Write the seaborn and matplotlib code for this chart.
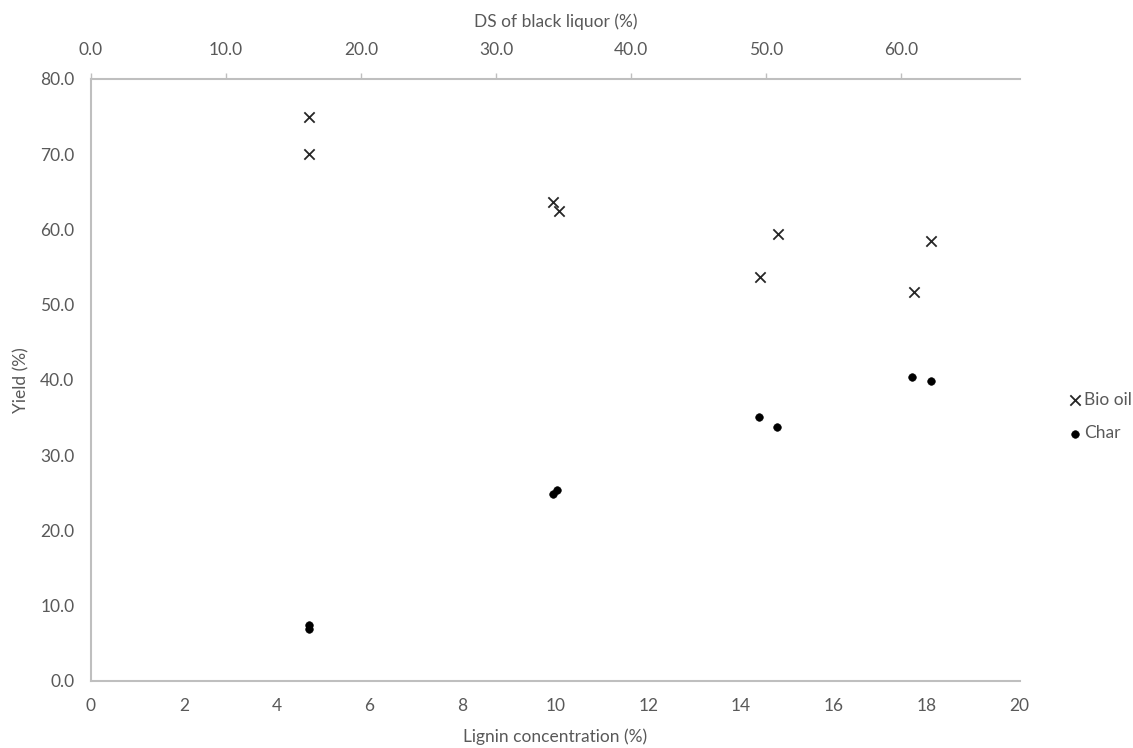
import matplotlib
matplotlib.use("Agg")
import matplotlib.pyplot as plt
import numpy as np
import pandas as pd
import seaborn as sns
from matplotlib.ticker import FormatStrFormatter

# valores
lignin_bio = [4.70, 4.70, 9.96, 10.08, 14.41, 14.80, 17.72, 18.09]
yield_bio = [75.0, 70.0, 63.6, 62.4, 53.7, 59.4, 51.7, 58.5]
lignin_char = [4.70, 4.70, 9.95, 10.04, 14.39, 14.78, 17.69, 18.08]
yield_char = [7.45, 6.9, 24.8, 25.4, 35.1, 33.8, 40.4, 39.9]
series_names = ["Bio oil", "Char"]
ds_ticks = [0, 10, 20, 30, 40, 50, 60]
lignin_ticks = [0, 2, 4, 6, 8, 10, 12, 14, 16, 18, 20]
yield_ticks = [0, 10, 20, 30, 40, 50, 60, 70, 80]

bio = pd.DataFrame({"lignin": lignin_bio, "yield": yield_bio})
char = pd.DataFrame({"lignin": lignin_char, "yield": yield_char})

sns.set_style("white")
plt.rcParams["font.family"] = ["Lato", "DejaVu Sans"]
grey_txt = "#595959"
grey_line = "#BFBFBF"

fig = plt.figure(figsize=(11.33, 7.48), dpi=100)
ax = fig.add_axes([0.0803, 0.0896, 0.8197, 0.8048])

sns.scatterplot(data=bio, x="lignin", y="yield", marker="x", color="#262626",
                s=55, linewidth=1.3, ax=ax, label=series_names[0])
sns.scatterplot(data=char, x="lignin", y="yield", marker="o", color="black",
                s=30, edgecolor="black", ax=ax, label=series_names[1])

ax.set_xlim(0, 20)
ax.set_ylim(0, 80)
ax.set_xticks(lignin_ticks)
ax.set_yticks(yield_ticks)
ax.yaxis.set_major_formatter(FormatStrFormatter("%.1f"))
ax.set_xlabel("Lignin concentration (%)", fontsize=12.5, color=grey_txt, labelpad=11)
ax.set_ylabel("Yield (%)", fontsize=12.5, color=grey_txt, labelpad=8)
ax.tick_params(axis="x", labelsize=12.5, colors=grey_txt, length=0, pad=12)
ax.tick_params(axis="y", labelsize=12.5, colors=grey_txt, length=0, pad=12)
for side in ["left", "bottom", "top"]:
    ax.spines[side].set_color(grey_line)
    ax.spines[side].set_linewidth(1.5)
ax.spines["right"].set_visible(False)

# eixo secundario em cima
ax2 = ax.twiny()
ax2.set_xlim(0, 68.8)
ax2.set_xticks(ds_ticks)
ax2.xaxis.set_major_formatter(FormatStrFormatter("%.1f"))
ax2.set_xlabel("DS of black liquor (%)", fontsize=12.5, color=grey_txt, labelpad=11)
ax2.tick_params(axis="x", labelsize=12.5, colors=grey_txt, length=4, width=1,
                color=grey_line, pad=11)
for side in ["left", "bottom", "top", "right"]:
    ax2.spines[side].set_visible(False)

leg = ax.legend(loc="center left", bbox_to_anchor=(0.935, 0.443), bbox_transform=fig.transFigure,
                frameon=False, fontsize=12.5, handletextpad=0.0, labelspacing=1.0,
                handlelength=1.0, borderaxespad=0)
for t in leg.get_texts():
    t.set_color(grey_txt)

fig.savefig("out.png", dpi=100)
